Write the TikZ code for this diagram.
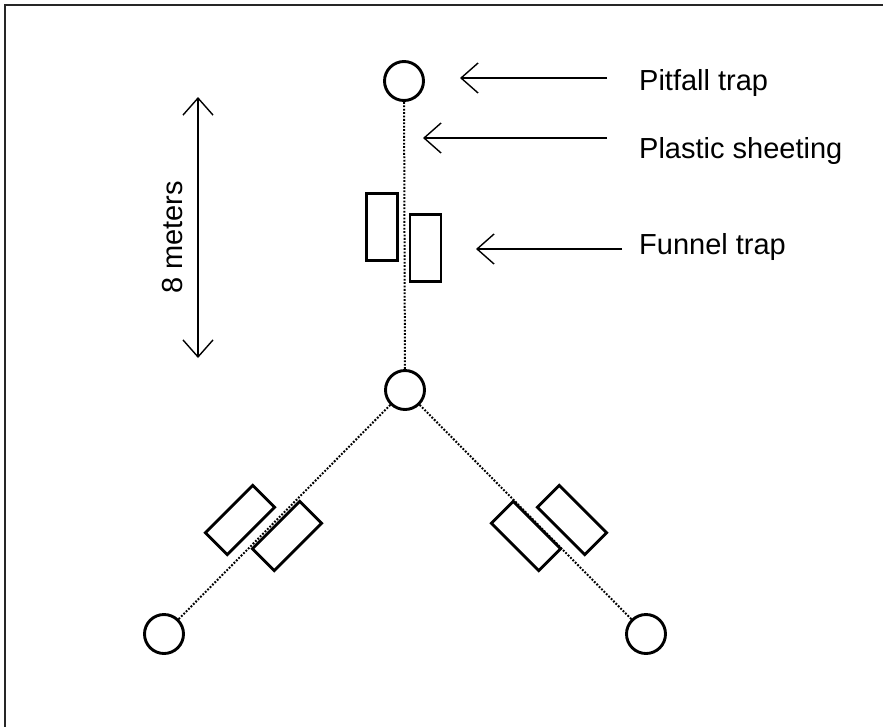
\documentclass[tikz,border=0pt]{standalone}
\usepackage{fontspec}
\setmainfont{Liberation Sans}
\usetikzlibrary{arrows.meta}
\tikzset{
  trap/.style={circle, draw, line width=2.9pt, minimum size=39pt, inner sep=0pt},
  funnel/.style={rectangle, draw, line width=2.9pt, minimum width=67pt, minimum height=31pt, inner sep=0pt},
  sheet/.style={line width=2pt, dash pattern=on 1.8pt off 1.6pt},
  pointer/.style={line width=1.4pt, -{Straight Barb[length=17pt,width=30pt]}},
  label/.style={font=\fontsize{29}{34}\selectfont, inner sep=0pt},
}
\begin{document}
\begin{tikzpicture}[x=1pt,y=-1pt]
\useasboundingbox (0,0) rectangle (883,726);
% outer frame: only its top and left edges fall inside the page
\draw[line width=2.2pt, black!85] (5,730) -- (5,5) -- (890,5);

% pitfall traps
\node[trap] (ptop) at (404,81) {};
\node[trap] (pmid) at (405,390) {};
\node[trap] (pleft) at (164,634) {};
\node[trap] (pright) at (646,634) {};

% plastic sheeting drift fences
\draw[sheet] (ptop) -- (pmid);
\draw[sheet] (pmid) -- (pleft);
\draw[sheet] (pmid) -- (pright);

% funnel traps along each fence
\node[funnel, rotate=90] (ftl) at (382,227) {};
\node[funnel, rotate=90] (ftr) at (425.5,248) {};
\node[funnel, rotate=45] (fl1) at (240,520) {};
\node[funnel, rotate=45] (fl2) at (287,536) {};
\node[funnel, rotate=-45] (fr1) at (526,536) {};
\node[funnel, rotate=-45] (fr2) at (572,520) {};

% labels
\node[label, anchor=base west] (lpit) at (639,90) {Pitfall trap};
\node[label, anchor=base west] (lsheet) at (639,158) {Plastic sheeting};
\node[label, anchor=base west] (lfun) at (639,254) {Funnel trap};

\coordinate (apit0) at (607,78);
\coordinate (apit1) at (460,78);
\coordinate (ash0) at (607,138);
\coordinate (ash1) at (423,138);
\coordinate (afun0) at (622,249);
\coordinate (afun1) at (476,249);
\draw[pointer] (apit0) -- (apit1);
\draw[pointer] (ash0) -- (ash1);
\draw[pointer] (afun0) -- (afun1);

% scale bar
\coordinate (stop) at (198,97);
\coordinate (sbot) at (198,358);
\draw[line width=1.4pt, {Straight Barb[length=17pt,width=30pt]}-{Straight Barb[length=17pt,width=30pt]}] (stop) -- (sbot);
\node[label, rotate=90, anchor=base] (lscale) at (182,237.5) {8 meters};
\end{tikzpicture}
\end{document}
